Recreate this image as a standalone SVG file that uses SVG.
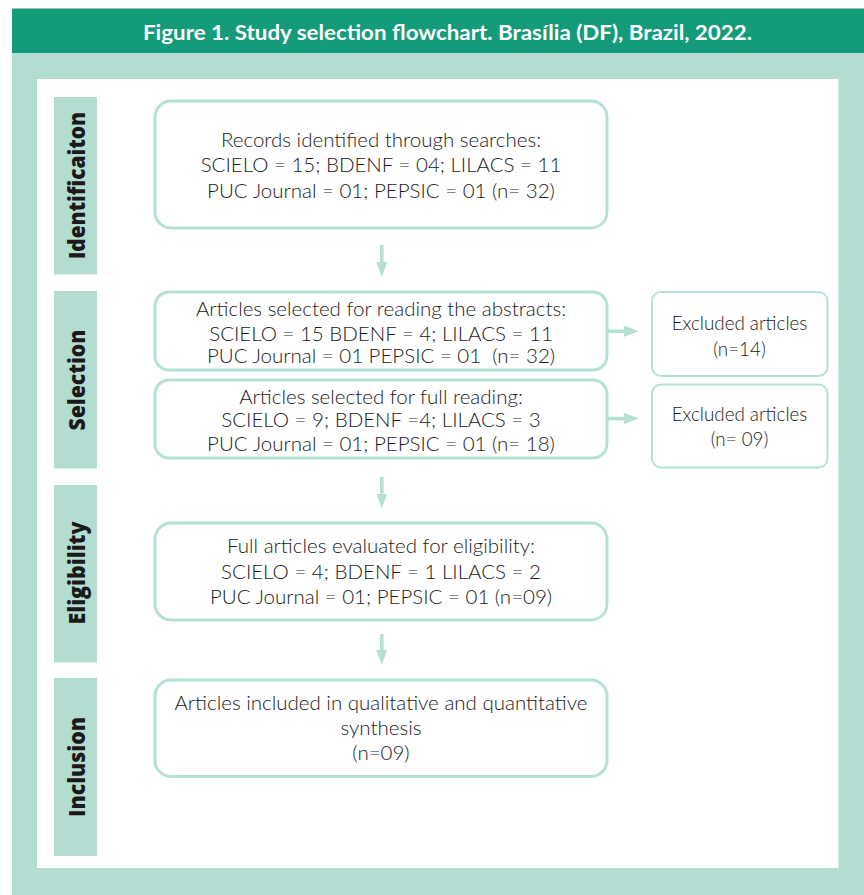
<svg xmlns="http://www.w3.org/2000/svg" width="864" height="895" viewBox="0 0 864 895">
  <style>
    .bg { fill: #b3ddd0; }
    .hdr { fill: #149b79; }
    .title { font-family: Lato, "Open Sans", sans-serif; font-weight: 700; font-size: 21px; fill: #ffffff; }
    .side { fill: #b3ddd0; }
    .sidet { font-family: "Open Sans", Lato, sans-serif; font-weight: 800; font-size: 22px; fill: #1a1a1a; }
    .box { fill: #ffffff; stroke: #b3e2d3; stroke-width: 3; }
    .ebox { fill: #ffffff; stroke: #b3e2d3; stroke-width: 2; }
    .t { font-family: Lato, "Open Sans", sans-serif; font-weight: 300; font-size: 20.5px; fill: #1a1a1a; text-anchor: middle; white-space: pre; }
    .te { font-size: 18.8px; }
    .conn line { stroke: #b3e0d2; stroke-width: 3.5; }
  </style>
  <defs>
    <marker id="ah" viewBox="0 0 15 11" refX="0" refY="5.5" markerWidth="15" markerHeight="11" orient="auto" markerUnits="userSpaceOnUse">
      <path d="M0,0 L15,5.5 L0,11 z" fill="#b3e0d2"/>
    </marker>
  </defs>

  <rect width="864" height="895" fill="#ffffff"/>
  <rect class="bg" x="12" y="53" width="852" height="842"/>
  <rect class="hdr" x="12" y="8.5" width="852" height="44.5"/>
  <text class="title" x="447.5" y="40" text-anchor="middle" textLength="609" lengthAdjust="spacingAndGlyphs">Figure 1. Study selection flowchart. Brasília (DF), Brazil, 2022.</text>
  <rect x="37" y="79" width="801.5" height="789" fill="#ffffff"/>

  <g id="lbl-identification">
    <rect class="side" x="54" y="97" width="43" height="177.5"/>
    <text class="sidet" transform="translate(85,185.5) rotate(-90)" text-anchor="middle" textLength="147" lengthAdjust="spacingAndGlyphs">Identificaiton</text>
  </g>
  <g id="lbl-selection">
    <rect class="side" x="54" y="291" width="43" height="177.5"/>
    <text class="sidet" transform="translate(85,380) rotate(-90)" text-anchor="middle" textLength="101" lengthAdjust="spacingAndGlyphs">Selection</text>
  </g>
  <g id="lbl-eligibility">
    <rect class="side" x="54" y="485" width="43" height="177.5"/>
    <text class="sidet" transform="translate(85,573) rotate(-90)" text-anchor="middle" textLength="103" lengthAdjust="spacingAndGlyphs">Eligibility</text>
  </g>
  <g id="lbl-inclusion">
    <rect class="side" x="54" y="678" width="43" height="178"/>
    <text class="sidet" transform="translate(85,767) rotate(-90)" text-anchor="middle" textLength="100" lengthAdjust="spacingAndGlyphs">Inclusion</text>
  </g>

  <g id="n-records">
    <rect class="box" x="155" y="101" width="452" height="127" rx="16"/>
    <text class="t" x="381" y="146.7">Records identified through searches:</text>
    <text class="t" x="381" y="172.3">SCIELO = 15; BDENF = 04; LILACS = 11</text>
    <text class="t" x="381" y="198.3">PUC Journal = 01; PEPSIC = 01 (n= 32)</text>
  </g>
  <g id="n-abstracts">
    <rect class="box" x="155" y="292" width="452" height="78" rx="14"/>
    <text class="t" x="381" y="315.7">Articles selected for reading the abstracts:</text>
    <text class="t" x="381" y="340.7">SCIELO = 15 BDENF = 4; LILACS = 11</text>
    <text class="t" x="381" y="362.7">PUC Journal = 01 PEPSIC = 01  (n= 32)</text>
  </g>
  <g id="n-full">
    <rect class="box" x="155" y="380" width="452" height="78" rx="14"/>
    <text class="t" x="381" y="404">Articles selected for full reading:</text>
    <text class="t" x="381" y="427.3">SCIELO = 9; BDENF =4; LILACS = 3</text>
    <text class="t" x="381" y="450.7">PUC Journal = 01; PEPSIC = 01 (n= 18)</text>
  </g>
  <g id="n-eligibility">
    <rect class="box" x="155" y="523" width="452" height="97" rx="16"/>
    <text class="t" x="381" y="553.3">Full articles evaluated for eligibility:</text>
    <text class="t" x="381" y="579">SCIELO = 4; BDENF = 1 LILACS = 2</text>
    <text class="t" x="381" y="604.3">PUC Journal = 01; PEPSIC = 01 (n=09)</text>
  </g>
  <g id="n-included">
    <rect class="box" x="155" y="680" width="452" height="96.5" rx="16"/>
    <text class="t" x="381" y="710">Articles included in qualitative and quantitative</text>
    <text class="t" x="381" y="735">synthesis</text>
    <text class="t" x="381" y="760">(n=09)</text>
  </g>
  <g id="n-excluded1">
    <rect class="ebox" x="652" y="292" width="175.5" height="84" rx="9"/>
    <text class="t te" x="739.5" y="330">Excluded articles</text>
    <text class="t te" x="739.5" y="356">(n=14)</text>
  </g>
  <g id="n-excluded2">
    <rect class="ebox" x="652" y="384.5" width="175.5" height="83" rx="9"/>
    <text class="t te" x="739.5" y="420.7">Excluded articles</text>
    <text class="t te" x="739.5" y="445.7">(n= 09)</text>
  </g>

  <g id="connectors" class="conn">
    <line x1="381.8" y1="245" x2="381.8" y2="262" marker-end="url(#ah)"/>
    <line x1="381.8" y1="477" x2="381.8" y2="493.5" marker-end="url(#ah)"/>
    <line x1="381.8" y1="634" x2="381.8" y2="650" marker-end="url(#ah)"/>
    <line x1="608" y1="331.3" x2="624" y2="331.3" marker-end="url(#ah)"/>
    <line x1="608" y1="418.5" x2="624" y2="418.5" marker-end="url(#ah)"/>
  </g>
</svg>
